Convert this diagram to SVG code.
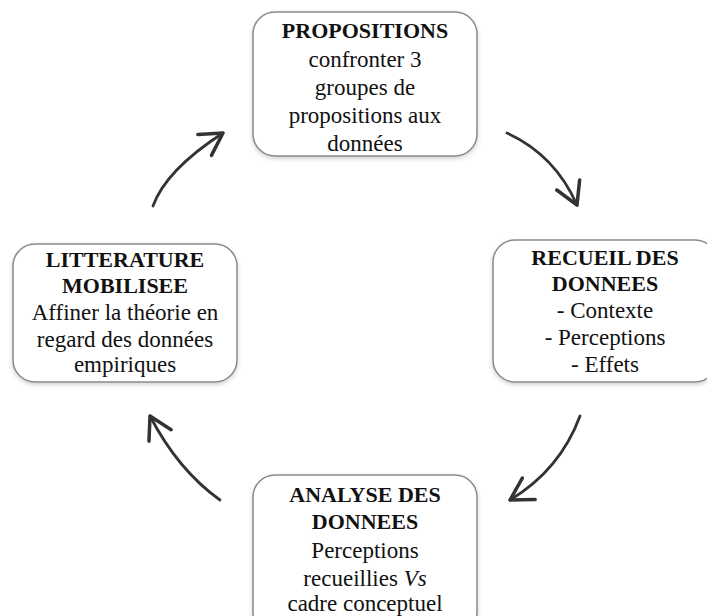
<svg xmlns="http://www.w3.org/2000/svg" width="707" height="616" viewBox="0 0 707 616">
<defs>
<filter id="sh" x="-10%" y="-10%" width="120%" height="125%">
<feDropShadow dx="0" dy="2" stdDeviation="2" flood-color="#000" flood-opacity="0.18"/>
</filter>
<marker id="ah" markerUnits="userSpaceOnUse" markerWidth="30" markerHeight="30" viewBox="-20 -12 22 24" refX="0" refY="0" orient="auto">
<path d="M -17.5 -10 L 0 0 L -17.5 10" fill="none" stroke="#333" stroke-width="2.8" stroke-linecap="round" stroke-linejoin="round"/>
</marker>
</defs>
<style>
.box{fill:#fff;stroke:#8a8a8a;stroke-width:1.5;filter:url(#sh)}
text{font-family:"Liberation Serif","DejaVu Serif",serif;fill:#111;text-anchor:middle}
.h{font-weight:bold;font-size:22px}
.b{font-size:23px}
.arr{fill:none;stroke:#333;stroke-width:2.8;stroke-linecap:round;marker-end:url(#ah)}
</style>
<rect width="707" height="616" fill="#fff"/>
<g id="connectors">
<path class="arr" d="M 153 206 Q 166 170 223 133"/>
<path class="arr" d="M 507 133 Q 555 155 577 205"/>
<path class="arr" d="M 580 416 Q 560 470 510 500"/>
<path class="arr" d="M 220 500 Q 178 470 150 416"/>
</g>
<g id="propositions">
<rect class="box" x="253" y="12" width="224" height="144" rx="22"/>
<text class="h" x="365" y="38">PROPOSITIONS</text>
<text class="b" x="365" y="67">confronter 3</text>
<text class="b" x="365" y="95">groupes de</text>
<text class="b" x="365" y="123">propositions aux</text>
<text class="b" x="365" y="151">données</text>
</g>
<g id="recueil">
<rect class="box" x="493" y="240" width="224" height="142" rx="22"/>
<text class="h" x="605" y="265">RECUEIL DES</text>
<text class="h" x="605" y="291">DONNEES</text>
<text class="b" x="605" y="318">- Contexte</text>
<text class="b" x="605" y="345">- Perceptions</text>
<text class="b" x="605" y="372">- Effets</text>
</g>
<g id="litterature">
<rect class="box" x="13" y="244" width="224" height="138" rx="22"/>
<text class="h" x="125" y="267">LITTERATURE</text>
<text class="h" x="125" y="293">MOBILISEE</text>
<text class="b" x="125" y="320">Affiner la théorie en</text>
<text class="b" x="125" y="347">regard des données</text>
<text class="b" x="125" y="372">empiriques</text>
</g>
<g id="analyse">
<rect class="box" x="253" y="475" width="224" height="160" rx="22"/>
<text class="h" x="365" y="502">ANALYSE DES</text>
<text class="h" x="365" y="529">DONNEES</text>
<text class="b" x="365" y="558">Perceptions</text>
<text class="b" x="365" y="586">recueillies <tspan font-style="italic">Vs</tspan></text>
<text class="b" x="365" y="611">cadre conceptuel</text>
</g>
</svg>
